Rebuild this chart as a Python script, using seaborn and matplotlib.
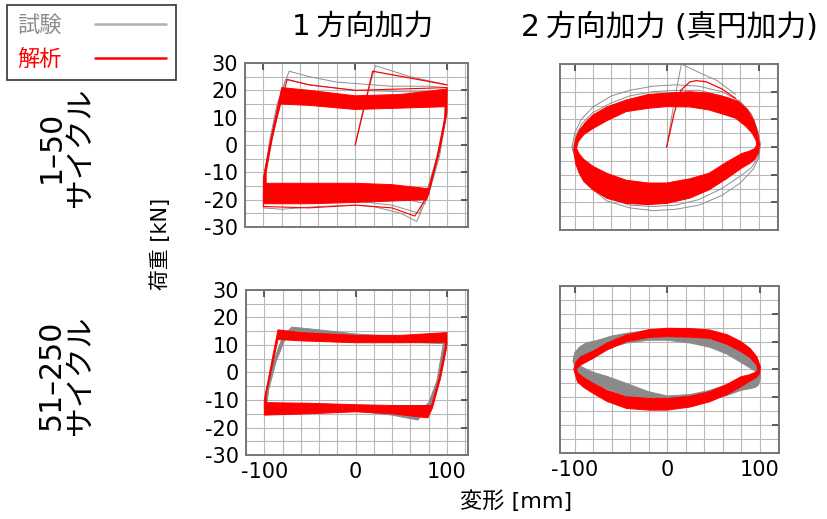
import matplotlib
matplotlib.use("Agg")
import matplotlib.pyplot as plt
import seaborn as sns
from matplotlib.path import Path
from matplotlib.patches import PathPatch
from matplotlib.lines import Line2D
from matplotlib.ticker import MultipleLocator

sns.set_style("white")
plt.rcParams['font.family'] = ['DejaVu Sans', 'Noto Sans CJK JP']
plt.rcParams['axes.unicode_minus'] = False
plt.rcParams['text.color'] = 'black'

# --- data (displacement mm, load kN) ---
# 1方向加力, 1-50 cycles
TL_RED_OUTER = [(-100, -21.5), (-100, -12), (-92, 2), (-80, 21), (-50, 20), (0, 18), (50, 18.5), (100, 20.5),
                (100, 12), (92, -2), (78, -20), (40, -20.5), (0, -21), (-50, -21.5), (-100, -21.5)]
TL_RED_INNER = [(-97, -14), (-97, -10), (-90, 3), (-82, 15), (-50, 14.5), (0, 13), (50, 13.5), (98, 14),
                (97.5, 10), (89.5, -4), (80, -16), (40, -14.5), (0, -14), (-50, -14), (-97, -14)]
TL_RED_INIT = [(0, 0), (10, 14), (19, 27), (60, 24.5), (100, 22)]
TL_RED_EARLY = [(-100, -22.5), (-99, -12), (-91, 3), (-74, 24), (-50, 22), (0, 20), (50, 20.5), (100, 21),
                (99, 11), (91, -3), (80, -18), (65, -26), (40, -23), (0, -22), (-50, -23), (-100, -22.5)]
TL_GRAY_INIT = [(0, 0), (10, 15), (22, 29), (60, 25), (100, 22)]
TL_GRAY_1 = [(-100, -23), (-100, -13), (-93, 2), (-85, 15), (-72, 27), (-50, 25), (-20, 23), (0, 22.5),
             (40, 21.5), (80, 21.5), (100, 21), (100, 12), (92, -4), (80, -18), (67, -28), (50, -25),
             (20, -22.5), (0, -22), (-40, -22.5), (-80, -23.5), (-100, -23)]
TL_GRAY_2 = [(-100, -21), (-99, -11), (-92, 2), (-76, 24), (-50, 22), (0, 20), (50, 19.5), (100, 19.5),
             (99, 10), (91, -3), (70, -25), (40, -22), (0, -20.5), (-50, -21), (-100, -21)]
TL_GRAY_3 = [(-100, -18.5), (-98, -9), (-90, 3), (-79, 18.5), (-50, 17.5), (0, 16), (50, 16), (99, 17),
             (97, 8), (89, -4), (76, -21.5), (40, -18.5), (0, -18), (-50, -18.5), (-100, -18.5)]

# 2方向加力 (真円加力), 1-50 cycles
TR_RED_OUTER = [(-101, -1), (-99, 3), (-95, 6), (-88, 9), (-80, 11.6), (-65, 14.5), (-44, 17), (-20, 19),
                (0, 19.5), (25, 20), (46, 19.5), (65, 18), (78, 16.5), (88, 13.5), (95, 9.5), (99, 5),
                (101, 1), (100, -2), (96, -4.5), (90, -6), (82, -7.5), (65, -11.5), (46, -15.5),
                (25, -18.5), (0, -20.4), (-20, -20.8), (-44, -20.4), (-65, -18.5), (-80, -15.5),
                (-90, -12.5), (-95, -9.5), (-99, -6), (-101, -1)]
TR_RED_INNER = [(-98, -0.5), (-96, 2), (-90, 4.5), (-80, 6.7), (-65, 9.5), (-44, 12.8), (-20, 14), (0, 14.6),
                (25, 14.5), (46, 13.4), (65, 11.5), (75, 10.4), (86, 7.5), (93, 5), (97, 2.5), (98, 1),
                (96, -0.5), (90, -1.5), (82, -2.3), (65, -5.5), (46, -9.5), (25, -11.5), (0, -13),
                (-20, -13), (-44, -12), (-65, -9.5), (-80, -7), (-90, -4.5), (-95, -2.5), (-98, -0.5)]
TR_RED_INIT = [(0, 0), (8, 12), (15.6, 20.6), (25, 23.5), (32, 24), (43, 23.6), (60, 21), (75, 17.6)]
TR_GRAY_INIT = [(0, 0), (9, 18), (16, 30), (35, 27), (55, 24), (75, 19)]
TR_GRAY_1 = [(-103, 0), (-100, 5), (-93, 10), (-80, 14.5), (-60, 18.5), (-40, 20.5), (-15, 22), (10, 22.5),
             (35, 22), (60, 20), (80, 16.5), (92, 12), (99, 6), (102, 1), (100, -4), (94, -8), (80, -13),
             (60, -17.5), (35, -21), (10, -22.5), (-15, -23), (-40, -22), (-65, -19.5), (-85, -14),
             (-96, -8), (-103, 0)]
TR_GRAY_2 = [(-102, -1), (-99, 4), (-92, 8.5), (-80, 12.5), (-60, 16), (-40, 18.5), (-15, 20), (10, 20.5),
             (35, 20.5), (60, 18.5), (80, 15), (92, 10.5), (99, 5), (101, 0), (99, -4), (92, -7.5),
             (80, -10.5), (60, -15), (35, -19), (10, -21), (-15, -21.5), (-40, -21), (-65, -18.5),
             (-85, -13.5), (-96, -7), (-102, -1)]

# 1方向加力, 51-250 cycles
BL_RED_OUTER = [(-100, -15.5), (-100, -10), (-93, 2), (-85, 15.5), (-60, 14.5), (0, 13.5), (50, 13.5),
                (100, 14.5), (100, 10), (93, -2), (84, -13), (79, -16.5), (40, -15), (0, -14.3),
                (-50, -15), (-100, -15.5)]
BL_RED_INNER = [(-98, -11), (-98, -8), (-91.5, 2), (-85, 12), (-60, 11.5), (0, 10.8), (50, 10.8), (98, 11),
                (98, 9), (91.5, -2), (83, -12), (40, -12), (0, -11.7), (-50, -11.2), (-98, -11)]
BL_GRAY_OUTER = [(-100, -13), (-99, -8), (-90, 4), (-80, 13), (-70, 16.5), (-40, 15.5), (0, 14), (50, 13),
                 (98, 12.5), (99, 8), (92, -3), (82, -12), (68, -17.3), (40, -15.5), (0, -14), (-50, -13.5),
                 (-100, -13)]
BL_GRAY_INNER = [(-97, -11), (-95, -6), (-87, 4), (-78, 11.5), (-70, 14), (-40, 13), (0, 11.5), (50, 11),
                 (96, 10.5), (89, -3), (80, -11), (68, -14.5), (40, -13), (0, -12), (-50, -11.5), (-97, -11)]

# 2方向加力 (真円加力), 51-250 cycles
BR_RED_OUTER = [(-101, 0), (-99, 2.5), (-94, 4.5), (-80, 6.6), (-65, 9.5), (-44, 12.4), (-20, 14.3), (0, 14.8),
                (25, 14.7), (46, 14.2), (65, 12.5), (80, 10), (90, 7.5), (97, 4.6), (101, 1), (100, -1.5),
                (96, -3), (88, -4.5), (80, -6.2), (65, -9), (46, -11.6), (25, -13.5), (0, -14.6),
                (-20, -14.6), (-44, -14), (-65, -11.5), (-80, -8.6), (-90, -6.5), (-97, -4.5), (-101, 0)]
BR_RED_INNER = [(-98, 0.2), (-94, 1.5), (-80, 4), (-65, 7), (-44, 10), (-20, 11.5), (0, 11.8), (25, 11.6),
                (46, 11.2), (65, 9), (80, 6.4), (90, 4.2), (97, 1.5), (98, -0.3), (96, -1), (88, -2),
                (80, -2.6), (65, -5.3), (46, -8), (25, -9.6), (0, -10.4), (-20, -10.4), (-44, -9.8),
                (-65, -7.5), (-80, -5), (-90, -3), (-97, -1.2), (-98, 0.2)]
BR_GRAY_OUTER = [(-102, 3), (-100, 6), (-95, 8), (-88, 9.5), (-75, 10.5), (-60, 12), (-44, 13), (-20, 14),
                 (0, 14.5), (25, 14.5), (46, 13.8), (65, 12), (80, 9.5), (90, 7), (97, 4), (101, 0),
                 (101, -3), (99, -5.5), (95, -6.5), (88, -7), (80, -7.5), (65, -9.3), (46, -11),
                 (25, -12.5), (0, -13), (-20, -12), (-44, -9.5), (-65, -7), (-80, -5), (-90, -3),
                 (-97, -1), (-102, 3)]
BR_GRAY_INNER = [(-98, 3), (-95, 4.5), (-88, 5.5), (-80, 6), (-60, 8), (-44, 9.5), (-20, 10.5), (0, 10.5),
                 (25, 9.5), (46, 8), (65, 5.5), (80, 2.5), (90, 0.5), (95, -0.5), (97, -1.5), (95, -2.5),
                 (88, -3), (80, -4), (65, -5.5), (46, -7.5), (25, -9), (0, -9.5), (-20, -8), (-44, -5),
                 (-65, -2.5), (-80, -1), (-90, 0.5), (-95, 1.5), (-98, 3)]

COL_TITLES = ['1\u2009方向加力', '2\u2009方向加力 (真円加力)']
ROW_LABELS = ['1–50\nサイクル', '51–250\nサイクル']
LEGEND_LABELS = ['試験', '解析']
X_TICKS = [-100, 0, 100]
Y_TICKS = [-30, -20, -10, 0, 10, 20, 30]

RED = '#ff0000'
GRAY_LINE = '#8e8e8e'
GRAY_BAND = '#8a8a8a'


def draw_line(ax, pts, color, lw):
    xs = [p[0] for p in pts]
    ys = [p[1] for p in pts]
    sns.lineplot(x=xs, y=ys, sort=False, estimator=None, color=color, lw=lw, ax=ax, legend=False)


def draw_band(ax, outer, inner, color):
    inner_r = inner[::-1]
    verts = list(outer) + [outer[0]] + list(inner_r) + [inner_r[0]]
    codes = ([Path.MOVETO] + [Path.LINETO] * (len(outer) - 1) + [Path.CLOSEPOLY] +
             [Path.MOVETO] + [Path.LINETO] * (len(inner_r) - 1) + [Path.CLOSEPOLY])
    ax.add_patch(PathPatch(Path(verts, codes), facecolor=color, edgecolor=color, lw=0.7,
                           joinstyle='round', zorder=3))


fig = plt.figure(figsize=(8.27, 5.19), dpi=100)
ax_tl = fig.add_axes([0.2963, 0.5626, 0.2697, 0.316])
ax_tr = fig.add_axes([0.6771, 0.5568, 0.2636, 0.3198])
ax_bl = fig.add_axes([0.2975, 0.1233, 0.2684, 0.318])
ax_br = fig.add_axes([0.6771, 0.1272, 0.2648, 0.3218])

# top-left
for loop in [TL_GRAY_1, TL_GRAY_2, TL_GRAY_3, TL_GRAY_INIT]:
    draw_line(ax_tl, loop, GRAY_LINE, 0.7)
draw_line(ax_tl, TL_RED_EARLY, RED, 0.8)
draw_line(ax_tl, TL_RED_INIT, RED, 0.9)
draw_band(ax_tl, TL_RED_OUTER, TL_RED_INNER, RED)

# top-right
for loop in [TR_GRAY_1, TR_GRAY_2, TR_GRAY_INIT]:
    draw_line(ax_tr, loop, GRAY_LINE, 0.7)
draw_line(ax_tr, TR_RED_INIT, RED, 0.9)
draw_band(ax_tr, TR_RED_OUTER, TR_RED_INNER, RED)

# bottom-left
draw_band(ax_bl, BL_GRAY_OUTER, BL_GRAY_INNER, GRAY_BAND)
draw_band(ax_bl, BL_RED_OUTER, BL_RED_INNER, RED)

# bottom-right
draw_band(ax_br, BR_GRAY_OUTER, BR_GRAY_INNER, GRAY_BAND)
draw_band(ax_br, BR_RED_OUTER, BR_RED_INNER, RED)

for i, ax in enumerate([ax_tl, ax_tr, ax_bl, ax_br]):
    left_col = i % 2 == 0
    bottom_row = i >= 2
    ax.set_xlim((-120, 123) if left_col else (-116, 121))
    ax.set_ylim(-30, 30)
    ax.set_xticks(X_TICKS)
    ax.set_yticks(Y_TICKS)
    ax.xaxis.set_minor_locator(MultipleLocator(20))
    ax.yaxis.set_minor_locator(MultipleLocator(5))
    ax.grid(which='both', color='#b8b8b8', lw=0.8, zorder=0)
    ax.set_axisbelow(True)
    ax.tick_params(which='major', direction='in', length=5, width=1.3, color='#505050',
                   labelcolor='black', top=True, right=True, labelsize=15, pad=5,
                   labelleft=left_col, labelbottom=bottom_row)
    ax.tick_params(which='minor', length=0)
    for sp in ax.spines.values():
        sp.set_color('#777777')
        sp.set_linewidth(1.4)
    ax.set_xlabel('')
    ax.set_ylabel('')

# column titles
fig.text(362 / 827, 1 - 27 / 519, COL_TITLES[0], ha='center', va='center', fontsize=21)
fig.text(669 / 827, 1 - 27 / 519, COL_TITLES[1], ha='center', va='center', fontsize=21.5)

# row labels
fig.text(66 / 827, 1 - 147 / 519, ROW_LABELS[0], rotation=90, ha='center', va='center',
         multialignment='center', fontsize=21.5, linespacing=1.0)
fig.text(66 / 827, 1 - 375 / 519, ROW_LABELS[1], rotation=90, ha='center', va='center',
         multialignment='center', fontsize=21.5, linespacing=1.0)

# axis labels
fig.text(161 / 827, 1 - 244 / 519, '荷重 [kN]', rotation=90, ha='center', va='center', fontsize=15)
fig.text(516 / 827, 1 - 501 / 519, '変形 [mm]', ha='center', va='center', fontsize=16)

# legend
handles = [Line2D([], [], color='#b0b0b0', lw=1.8), Line2D([], [], color=RED, lw=1.8)]
leg = fig.legend(handles, LEGEND_LABELS, loc='upper left', bbox_to_anchor=(7 / 827, 1 - 5 / 519),
                 markerfirst=False, frameon=True, fancybox=False, fontsize=16, handlelength=3.2,
                 handletextpad=1.5, borderpad=0.45, labelspacing=0.6, borderaxespad=0,
                 labelcolor=['#8c8c8c', RED])
leg.get_frame().set_edgecolor('black')
leg.get_frame().set_linewidth(1.2)

fig.savefig('out.png', dpi=100)
